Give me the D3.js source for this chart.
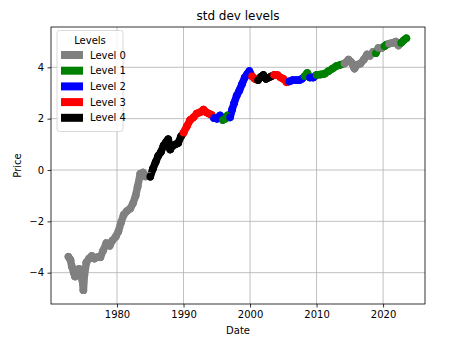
<!DOCTYPE html>
<html><head><meta charset="utf-8">
<script src="https://cdn.jsdelivr.net/npm/d3@7"></script>
<style>body{margin:0;background:#fff}svg{display:block}text{font-family:"DejaVu Sans",sans-serif}</style>
</head><body><svg id="c" width="456" height="345"></svg>
<script>
const levelNames = ["Level 0","Level 1","Level 2","Level 3","Level 4"];
const levelColors = ["gray","green","blue","red","black"];
const xTicks = [1980,1990,2000,2010,2020];
const yTicks = [-4,-2,0,2,4];
const dates = [1972.7,1973.0,1973.2,1973.5,1973.7,1974.0,1974.3,1974.6,1974.8,1974.95,1975.1,1975.4,1975.8,1976.2,1976.6,1977.0,1977.5,1977.9,1978.4,1978.9,1979.3,1979.8,1980.2,1980.6,1981.0,1981.5,1982.0,1982.4,1982.8,1983.1,1983.5,1983.9,1984.3,1984.7,
 1985.0,1985.4,1985.8,1986.2,1986.6,1987.0,1987.4,1987.7,1988.0,1988.4,1988.8,1989.2,1989.6,
 1990.0,1990.5,1991.0,1991.5,1992.0,1992.5,1993.0,1993.4,1993.8,1994.2,
 1994.6,1995.0,1995.5,
 1995.9,1996.3,1996.6,
 1997.0,1997.3,1997.6,1998.0,1998.4,1998.8,1999.2,1999.6,1999.9,
 2000.3,2000.7,
 2001.2,2001.6,2002.0,2002.4,2002.8,2003.2,
 2003.6,2004.1,2004.6,2005.0,2005.5,
 2005.9,2006.4,2006.9,2007.4,2007.8,
 2008.2,2008.6,
 2009.0,2009.5,
 2010.0,2010.6,2011.2,2011.8,2012.4,2013.0,2013.6,
 2014.2,2014.8,2015.2,2015.7,2016.1,2016.6,2017.1,2017.6,2018.0,2018.5,
 2018.9,
 2019.3,2019.8,
 2020.2,2020.5,
 2020.9,2021.4,2021.9,2022.3,
 2022.7,2023.1,2023.5];
const prices = [-3.38,-3.5,-3.75,-4.0,-4.15,-3.9,-3.85,-4.0,-4.3,-4.68,-4.1,-3.6,-3.45,-3.35,-3.45,-3.4,-3.4,-3.15,-2.85,-2.95,-2.75,-2.6,-2.4,-2.05,-1.75,-1.6,-1.5,-1.3,-1.0,-0.65,-0.15,-0.1,-0.25,-0.22,
 -0.26,0.05,0.3,0.55,0.7,0.95,1.1,1.2,0.8,0.95,1.0,1.05,1.3,
 1.45,1.7,1.95,2.05,2.2,2.25,2.35,2.25,2.2,2.15,
 2.02,2.0,2.12,
 1.95,2.0,2.12,
 2.05,2.35,2.6,2.9,3.1,3.35,3.6,3.75,3.85,
 3.65,3.55,
 3.5,3.62,3.7,3.55,3.6,3.65,
 3.7,3.7,3.6,3.55,3.42,
 3.45,3.5,3.5,3.5,3.55,
 3.65,3.78,
 3.6,3.6,
 3.7,3.72,3.75,3.85,3.95,4.05,4.1,
 4.15,4.3,4.2,3.95,4.1,4.15,4.3,4.5,4.45,4.6,
 4.55,
 4.75,4.75,
 4.82,4.88,
 4.92,4.95,5.0,4.85,
 4.95,5.05,5.13];
const levels = [0,0,0,0,0,0,0,0,0,0,0,0,0,0,0,0,0,0,0,0,0,0,0,0,0,0,0,0,0,0,0,0,0,0,
 4,4,4,4,4,4,4,4,4,4,4,4,4,
 3,3,3,3,3,3,3,3,3,3,
 2,2,2,
 1,1,1,
 2,2,2,2,2,2,2,2,2,
 3,3,
 4,4,4,4,4,4,
 3,3,3,3,3,
 2,2,2,2,2,
 1,1,
 2,2,
 1,1,1,1,1,1,1,
 0,0,0,0,0,0,0,0,0,0,
 1,
 0,0,
 1,1,
 0,0,0,0,
 1,1,1];

const svg = d3.select("#c");
const L=51, R=425, T=27, B=304;
const x = d3.scaleLinear().domain([1970.08,2026.3]).range([L,R]);
const y = d3.scaleLinear().domain([-5.22,5.57]).range([B,T]);

// grid
svg.append("g").selectAll("line").data(xTicks).join("line")
  .attr("x1",d=>x(d)).attr("x2",d=>x(d)).attr("y1",T).attr("y2",B)
  .attr("stroke","#b0b0b0").attr("stroke-width",0.8);
svg.append("g").selectAll("line").data(yTicks).join("line")
  .attr("y1",d=>y(d)).attr("y2",d=>y(d)).attr("x1",L).attr("x2",R)
  .attr("stroke","#b0b0b0").attr("stroke-width",0.8);

// data
const pts = dates.map((d,i)=>({d, v:prices[i], l:levels[i]}));
const segs = [];
for (let i=0;i<pts.length-1;i++) segs.push([pts[i],pts[i+1]]);
svg.append("g").selectAll("line").data(segs).join("line")
  .attr("x1",s=>x(s[0].d)).attr("y1",s=>y(s[0].v))
  .attr("x2",s=>x(s[1].d)).attr("y2",s=>y(s[1].v))
  .attr("stroke",s=>levelColors[s[0].l]).attr("stroke-width",7.5).attr("stroke-linecap","round");
svg.append("g").selectAll("circle").data(pts).join("circle")
  .attr("cx",p=>x(p.d)).attr("cy",p=>y(p.v)).attr("r",3.8).attr("fill",p=>levelColors[p.l]);

// axes
const fmt = d=> d<0 ? "\u2212"+Math.abs(d) : String(d);
const xa = svg.append("g").attr("transform",`translate(0,${B})`)
  .call(d3.axisBottom(x).tickValues(xTicks).tickSize(3.5).tickPadding(3.5).tickFormat(d3.format("d")));
const ya = svg.append("g").attr("transform",`translate(${L},0)`)
  .call(d3.axisLeft(y).tickValues(yTicks).tickSize(3.5).tickPadding(3.5).tickFormat(fmt));
[xa,ya].forEach(a=>{a.select(".domain").remove();
  a.selectAll("text").attr("font-size",10).attr("font-family","DejaVu Sans").attr("fill","#000");
  a.selectAll("line").attr("stroke","#000").attr("stroke-width",0.8);});
svg.append("rect").attr("x",L).attr("y",T).attr("width",R-L).attr("height",B-T)
  .attr("fill","none").attr("stroke","#000").attr("stroke-width",0.8);

// labels
svg.append("text").attr("x",(L+R)/2).attr("y",20).attr("text-anchor","middle").attr("font-size",12).text("std dev levels");
svg.append("text").attr("x",(L+R)/2).attr("y",334).attr("text-anchor","middle").attr("font-size",10).text("Date");
svg.append("text").attr("transform",`translate(21,${(T+B)/2}) rotate(-90)`).attr("text-anchor","middle").attr("font-size",10).text("Price");

// legend
const lg = svg.append("g");
lg.append("rect").attr("x",57).attr("y",30.5).attr("width",66).attr("height",101).attr("rx",2.5)
  .attr("fill","#fff").attr("fill-opacity",0.8).attr("stroke","#d0d0d0").attr("stroke-width",0.8);
lg.append("text").attr("x",90).attr("y",44).attr("text-anchor","middle").attr("font-size",10).text("Levels");
const items = lg.selectAll("g.it").data(levelNames).join("g").attr("class","it")
  .attr("transform",(d,i)=>`translate(0,${55+i*15.7})`);
items.append("rect").attr("x",61).attr("y",-4).attr("width",22).attr("height",8).attr("fill",(d,i)=>levelColors[i]);
items.append("text").attr("x",90).attr("y",3.6).attr("font-size",10).text(d=>d);
</script></body></html>
